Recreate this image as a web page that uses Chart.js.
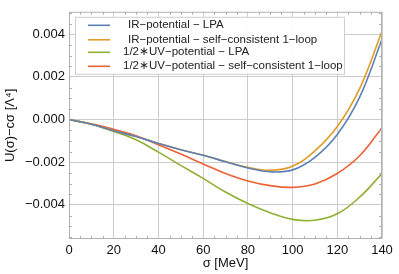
<!DOCTYPE html>
<html>
<head>
<meta charset="utf-8">
<script src="https://cdn.jsdelivr.net/npm/chart.js@4"></script>
<style>
html,body{margin:0;padding:0;background:#fff;}
#wrap{width:399px;height:274px;}
</style>
</head>
<body>
<div id="wrap"><canvas id="c" width="399" height="274"></canvas></div>
<script>
const sigma = [0,10,20,30,40,50,60,70,80,90,100,110,120,130,140];
const irLPA   = [0,-0.00022,-0.00053,-0.00080,-0.00112,-0.00142,-0.00167,-0.00198,-0.00227,-0.00245,-0.00236,-0.00177,-0.00070,0.00105,0.00376];
const irSC    = [0,-0.00022,-0.00053,-0.00080,-0.00112,-0.00142,-0.00167,-0.00197,-0.00224,-0.00238,-0.00219,-0.00147,-0.00033,0.00145,0.00414];
const uvLPA   = [0,-0.00022,-0.00056,-0.00095,-0.00153,-0.00215,-0.00276,-0.00340,-0.00394,-0.00437,-0.00468,-0.00472,-0.00442,-0.00364,-0.00253];
const uvSC    = [0,-0.00020,-0.00046,-0.00076,-0.00118,-0.00162,-0.00208,-0.00253,-0.00288,-0.00310,-0.00318,-0.00302,-0.00253,-0.00170,-0.00038];
const labels  = ['IR\u2212potential \u2212 LPA','IR\u2212potential \u2212 self\u2212consistent 1\u2212loop','1/2\u2217UV\u2212potential \u2212 LPA','1/2\u2217UV\u2212potential \u2212 self\u2212consistent 1\u2212loop'];
const colors  = ['#5E81B5','#E19C24','#8FB032','#EB6235'];
const xTicks  = [0,20,40,60,80,100,120,140];
const yTicks  = [-0.004,-0.002,0,0.002,0.004];
const xMinor  = [5,10,15,25,30,35,45,50,55,65,70,75,85,90,95,105,110,115,125,130,135];
const yMinor  = [-0.0055,-0.005,-0.0045,-0.0035,-0.003,-0.0025,-0.0015,-0.001,-0.0005,0.0005,0.001,0.0015,0.0025,0.003,0.0035,0.0045,0.005];

const series = [irLPA, irSC, uvLPA, uvSC];
const datasets = series.map((s,i)=>({
  label: labels[i],
  data: sigma.map((x,j)=>({x:x,y:s[j]})),
  borderColor: colors[i],
  backgroundColor: colors[i],
  borderWidth: 1.6,
  pointRadius: 0,
  tension: 0.4,
  fill: false
}));

const FONT = 'Liberation Sans, Arial, sans-serif';

const framePlugin = {
  id: 'frame',
  afterDraw(chart){
    const ctx = chart.ctx, a = chart.chartArea;
    const xs = chart.scales.x, ys = chart.scales.y;
    ctx.save();
    ctx.strokeStyle = '#b0b0b0';
    ctx.lineWidth = 1;
    ctx.strokeRect(a.left+0.5, a.top+0.5, a.right-a.left-1, a.bottom-a.top-1);
    ctx.beginPath();
    xMinor.forEach(v=>{
      const p = Math.round(xs.getPixelForValue(v))+0.5;
      ctx.moveTo(p,a.bottom); ctx.lineTo(p,a.bottom-3);
      ctx.moveTo(p,a.top); ctx.lineTo(p,a.top+3);
    });
    yMinor.forEach(v=>{
      const p = Math.round(ys.getPixelForValue(v))+0.5;
      ctx.moveTo(a.left,p); ctx.lineTo(a.left+3,p);
      ctx.moveTo(a.right,p); ctx.lineTo(a.right-3,p);
    });
    ctx.stroke();
    // legend
    const bx = a.left+6, by = a.top+5, bw = 269, bh = 57;
    ctx.fillStyle = 'rgba(255,255,255,0.95)';
    ctx.fillRect(bx, by, bw, bh);
    ctx.strokeStyle = '#cfcfcf';
    ctx.strokeRect(bx+0.5, by+0.5, bw, bh);
    ctx.font = '11.5px ' + FONT;
    ctx.textBaseline = 'middle';
    ctx.textAlign = 'left';
    const rows = [by+8.5, by+23, by+35.5, by+49.5];
    const tx = [bx+53, bx+53, bx+48, bx+48];
    chart.data.datasets.forEach((d,i)=>{
      ctx.strokeStyle = d.borderColor;
      ctx.lineWidth = 1.6;
      ctx.beginPath();
      ctx.moveTo(bx+13, rows[i]); ctx.lineTo(bx+35, rows[i]);
      ctx.stroke();
      ctx.fillStyle = '#222';
      ctx.fillText(d.label, tx[i], rows[i]);
    });
    ctx.restore();
  }
};

new Chart(document.getElementById('c'), {
  type: 'line',
  data: { datasets },
  options: {
    responsive: false,
    animation: false,
    events: [],
    layout: { padding: { left: 0, right: 17, top: 5, bottom: 0 } },
    plugins: { legend: { display: false }, tooltip: { enabled: false } },
    scales: {
      x: {
        type: 'linear', min: 0, max: 140,
        afterBuildTicks: s => { s.ticks = xTicks.map(v=>({value:v})); },
        afterFit: s => { s.height = 35; },
        grid: { color: '#cccccc', drawTicks: false, lineWidth: 1 },
        border: { display: false },
        ticks: { padding: 4, color: '#111', font: { family: FONT, size: 13 }, maxRotation: 0 },
        title: { display: true, text: '\u03C3 [MeV]', color: '#111', font: { family: FONT, size: 13 }, padding: { top: 0, bottom: 3 } }
      },
      y: {
        type: 'linear', min: -0.0056, max: 0.00505,
        afterBuildTicks: s => { s.ticks = yTicks.map(v=>({value:v})); },
        afterFit: s => { s.width = 69; },
        grid: { color: '#cccccc', drawTicks: false, lineWidth: 1 },
        border: { display: false },
        ticks: { padding: 4, color: '#111', font: { family: FONT, size: 13 },
                 callback: v => v.toFixed(3).replace('-', '\u2212') },
        title: { display: true, text: 'U(\u03C3)\u2212c\u03C3 [\u039B\u2074]', color: '#111', font: { family: FONT, size: 13 }, padding: { top: 3, bottom: 0 } }
      }
    }
  },
  plugins: [framePlugin]
});
</script>
</body>
</html>
